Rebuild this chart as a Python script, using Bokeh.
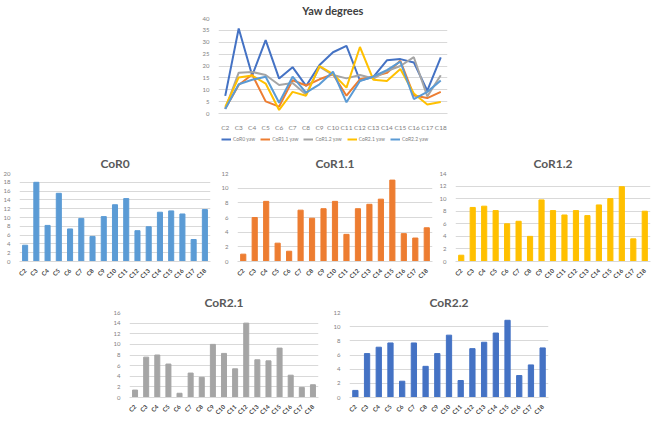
import math
from bokeh.plotting import figure
from bokeh.models import Range1d, FactorRange, SingleIntervalTicker, Legend, LegendItem, Spacer
from bokeh.layouts import column, row
from bokeh.embed import file_html
from bokeh.resources import INLINE

# Measurement points
cats = ["C2", "C3", "C4", "C5", "C6", "C7", "C8", "C9", "C10",
        "C11", "C12", "C13", "C14", "C15", "C16", "C17", "C18"]

# Yaw (degrees) per configuration
yaw_cor0 = [7.4, 35.8, 16.0, 30.9, 14.7, 19.5, 11.6, 20.4, 25.8, 28.5, 13.9, 15.4, 22.4, 22.9, 21.5, 9.6, 23.6]
yaw_cor11 = [2.0, 12.0, 16.4, 5.1, 2.9, 14.0, 11.8, 14.4, 16.5, 7.5, 14.4, 15.6, 17.1, 22.2, 7.6, 6.5, 9.1]
yaw_cor12 = [2.0, 17.2, 17.5, 16.2, 12.0, 12.8, 8.0, 19.7, 16.2, 14.8, 16.2, 14.7, 17.9, 20.0, 23.7, 7.2, 16.1]
yaw_cor21 = [2.8, 15.2, 16.0, 12.6, 1.5, 9.1, 7.5, 20.0, 16.6, 10.9, 28.0, 14.2, 13.7, 18.7, 8.4, 3.8, 4.8]
yaw_cor22 = [1.9, 12.3, 14.2, 15.5, 4.5, 15.5, 8.8, 12.3, 17.6, 4.7, 13.7, 15.6, 18.3, 21.8, 6.1, 9.1, 13.9]

# Per-configuration bar values
bar_cor0 = [3.7, 18.0, 8.2, 15.5, 7.4, 9.8, 5.7, 10.2, 12.9, 14.3, 7.0, 7.9, 11.2, 11.5, 10.8, 5.0, 11.8]
bar_cor11 = [1.0, 6.0, 8.2, 2.5, 1.4, 7.0, 5.9, 7.2, 8.2, 3.7, 7.2, 7.8, 8.5, 11.1, 3.8, 3.2, 4.6]
bar_cor12 = [1.0, 8.6, 8.8, 8.1, 6.0, 6.4, 4.0, 9.8, 8.1, 7.4, 8.1, 7.3, 9.0, 10.0, 11.9, 3.6, 8.0]
bar_cor21 = [1.4, 7.6, 8.0, 6.3, 0.8, 4.6, 3.8, 10.0, 8.3, 5.4, 14.0, 7.1, 6.9, 9.3, 4.2, 1.9, 2.4]
bar_cor22 = [1.0, 6.2, 7.1, 7.7, 2.3, 7.7, 4.4, 6.2, 8.8, 2.4, 6.9, 7.8, 9.1, 10.9, 3.1, 4.6, 7.0]

FONT = "Lato"
GRID = "#D9D9D9"
TICK_TXT = "#7F7F7F"
TITLE_TXT = "#595959"


def style_axes(p, y_step, x_font="6px", x_bold=False, x_rotate=False):
    p.outline_line_color = None
    p.xgrid.grid_line_color = None
    p.ygrid.grid_line_color = GRID
    p.ygrid.grid_line_width = 1
    p.yaxis.ticker = SingleIntervalTicker(interval=y_step)
    p.yaxis.axis_line_color = None
    p.yaxis.major_tick_line_color = None
    p.yaxis.minor_tick_line_color = None
    p.yaxis.major_label_text_font = FONT
    p.yaxis.major_label_text_font_size = "6px"
    p.yaxis.major_label_text_color = TICK_TXT
    p.yaxis.major_label_standoff = 3
    p.xaxis.axis_line_color = GRID
    p.xaxis.major_tick_line_color = None
    p.xaxis.minor_tick_line_color = None
    p.xaxis.major_label_text_font = FONT
    p.xaxis.major_label_text_font_size = x_font
    p.xaxis.major_label_text_color = "#404040" if x_bold else TICK_TXT
    p.xaxis.major_label_text_font_style = "bold" if x_bold else "normal"
    p.xaxis.major_label_standoff = 2 if x_rotate else 4
    if x_rotate:
        p.xaxis.major_label_orientation = math.pi / 4


def bar_chart(name, vals, color, ymax, width, height, left, right, top, bottom):
    p = figure(x_range=FactorRange(*cats, range_padding=0), y_range=Range1d(0, ymax),
               width=width, height=height, output_backend="svg", toolbar_location=None,
               min_border_left=left, min_border_right=right,
               min_border_top=top, min_border_bottom=bottom, title=name)
    p.vbar(x=cats, top=vals, width=0.45, color=color)
    p.title.align = "center"
    p.title.text_font = FONT
    p.title.text_font_size = "12px"
    p.title.text_font_style = "bold"
    p.title.text_color = TITLE_TXT
    p.title.standoff = 6
    style_axes(p, 2, x_font="6px", x_bold=True, x_rotate=True)
    return p


series = [("CoR0 yaw", yaw_cor0, "#4472C4"),
          ("CoR1.1 yaw", yaw_cor11, "#ED7D31"),
          ("CoR1.2 yaw", yaw_cor12, "#A5A5A5"),
          ("CoR2.1 yaw", yaw_cor21, "#FFC000"),
          ("CoR2.2 yaw", yaw_cor22, "#5B9BD5")]

# Line chart of yaw for all configurations
top = figure(x_range=FactorRange(*cats, range_padding=0), y_range=Range1d(0, 40),
             width=270, height=133, output_backend="svg", toolbar_location=None,
             min_border_left=33, min_border_right=8, min_border_top=16, min_border_bottom=15,
             title="Yaw degrees")
top.title.align = "center"
top.title.text_font = FONT
top.title.text_font_size = "11px"
top.title.text_font_style = "bold"
top.title.text_color = "#404040"
top.title.standoff = 3
style_axes(top, 5, x_font="6.5px")
for label, vals, color in series:
    top.line(x=cats, y=vals, line_color=color, line_width=2)

# Legend strip beneath the line chart (its frame lines up with the chart above)
leg = figure(x_range=top.x_range, y_range=top.y_range, width=270, height=12,
             output_backend="svg", toolbar_location=None,
             x_axis_location=None, y_axis_location=None,
             min_border_left=0, min_border_right=0, min_border_top=0, min_border_bottom=0)
leg.outline_line_color = None
leg.xgrid.grid_line_color = None
leg.ygrid.grid_line_color = None
items = []
for label, vals, color in series:
    r = leg.line(x=cats, y=vals, line_color=color, line_width=2, visible=False)
    items.append(LegendItem(label=label, renderers=[r]))
legend = Legend(items=items, orientation="horizontal", location=(3, 3), nrows=1,
                label_text_font=FONT, label_text_font_size="5px", label_text_color=TICK_TXT,
                glyph_width=10, glyph_height=6, label_height=6, label_standoff=2,
                spacing=5, padding=0, margin=0, border_line_color=None,
                background_fill_alpha=0, inactive_fill_alpha=0)
leg.add_layout(legend)

c0 = bar_chart("CoR0", bar_cor0, "#5B9BD5", 20, 218, 140, 12, 8, 28, 21)
c11 = bar_chart("CoR1.1", bar_cor11, "#ED7D31", 12, 218, 140, 15, 4, 28, 21)
c12 = bar_chart("CoR1.2", bar_cor12, "#FFC000", 14, 218, 140, 17, 4, 28, 21)
c21 = bar_chart("CoR2.1", bar_cor21, "#A5A5A5", 16, 220, 136, 13, 12, 27, 17)
c22 = bar_chart("CoR2.2", bar_cor22, "#4472C4", 12, 220, 136, 13, 2, 27, 17)

page = column(
    row(Spacer(width=185, height=145), column(top, leg), Spacer(width=199, height=145)),
    row(c0, c11, c12),
    row(Spacer(width=110, height=136), c21, c22, Spacer(width=104, height=136)),
)

open("out.html", "w").write(file_html(page, INLINE))
